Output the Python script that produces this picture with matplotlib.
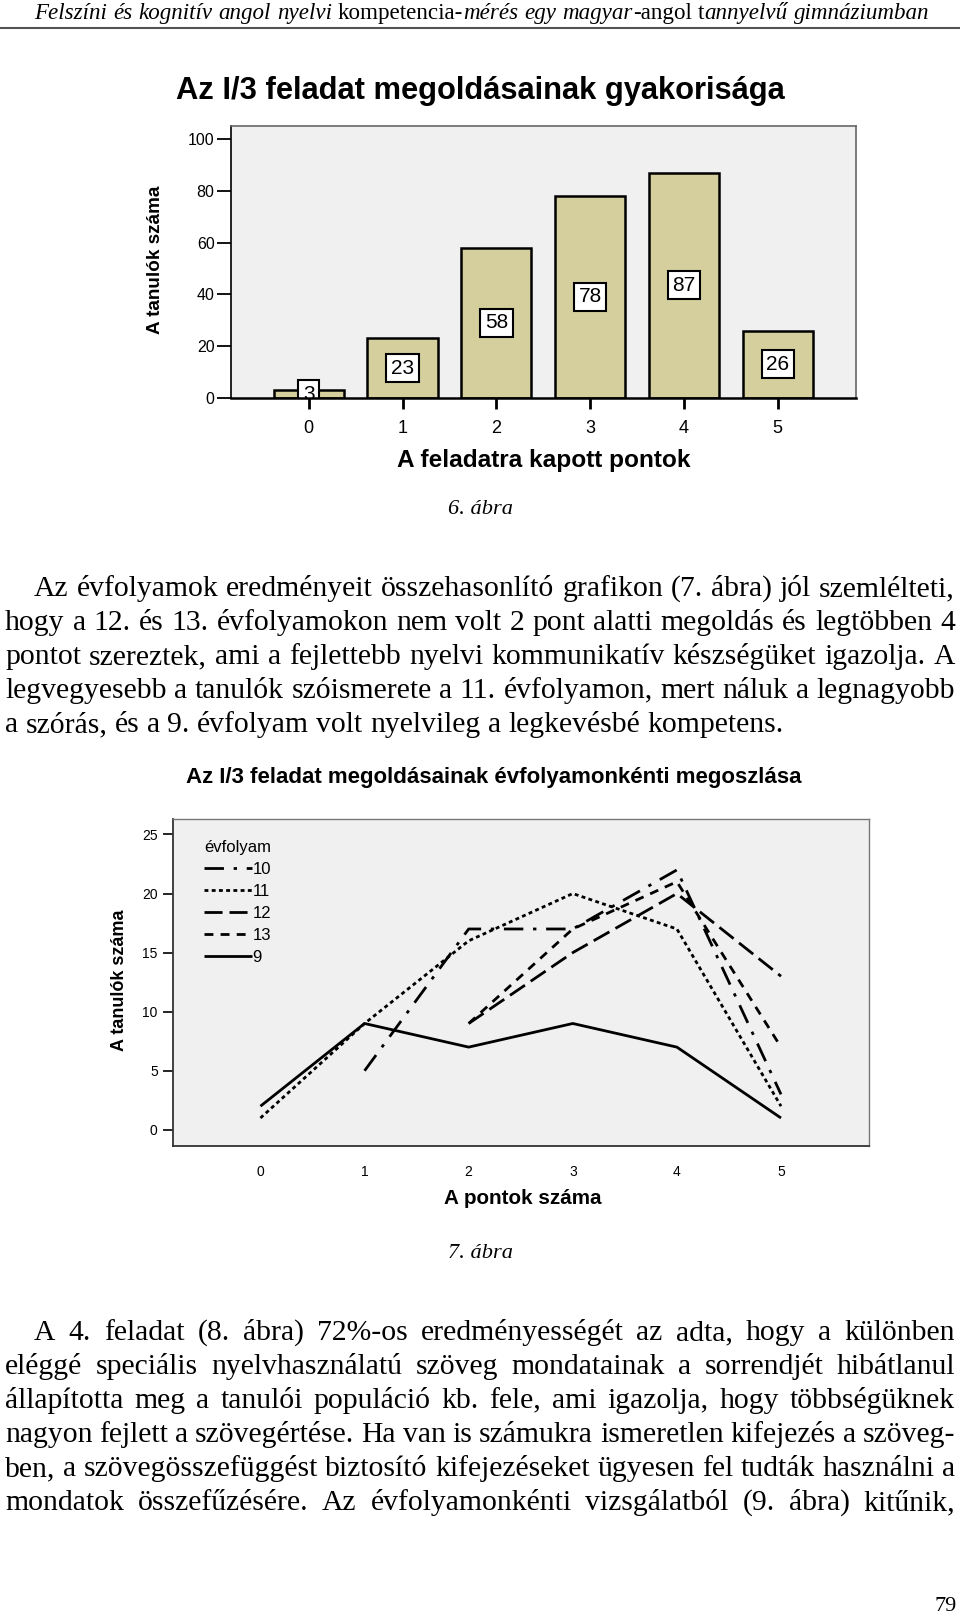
import matplotlib
matplotlib.use("Agg")
import matplotlib.pyplot as plt
import numpy as np

# ---------------- data ----------------
scores = [0, 1, 2, 3, 4, 5]
counts = [3, 23, 58, 78, 87, 26]

grade_labels = ["10", "11", "12", "13", "9"]
g10 = [np.nan, 5, 17, 17, 22, 3]
g11 = [1, 9, 16, 20, 17, 2]
g12 = [np.nan, np.nan, 9, 15, 20, 13]
g13 = [np.nan, np.nan, 9, 17, 21, 7]
g9 = [2, 9, 7, 9, 7, 1]

header_runs = [("Felszíni", "italic", True), ("és", "italic", True), ("kognitív", "italic", True),
               ("angol", "italic", True), ("nyelvi", "italic", True), ("kompetencia-", "normal", True),
               ("mérés", "italic", False), ("egy", "italic", True), ("magyar", "italic", True),
               ("-angol", "normal", False), ("t", "normal", True), ("annyelvű", "italic", False),
               ("gimnáziumban", "italic", True)]

para1 = ["Az évfolyamok eredményeit összehasonlító grafikon (7. ábra) jól szemlélteti,",
         "hogy a 12. és 13. évfolyamokon nem volt 2 pont alatti megoldás és legtöbben 4",
         "pontot szereztek, ami a fejlettebb nyelvi kommunikatív készségüket igazolja. A",
         "legvegyesebb a tanulók szóismerete a 11. évfolyamon, mert náluk a legnagyobb",
         "a szórás, és a 9. évfolyam volt nyelvileg a legkevésbé kompetens."]
para2 = ["A 4. feladat (8. ábra) 72%-os eredményességét az adta, hogy a különben",
         "eléggé speciális nyelvhasználatú szöveg mondatainak a sorrendjét hibátlanul",
         "állapította meg a tanulói populáció kb. fele, ami igazolja, hogy többségüknek",
         "nagyon fejlett a szövegértése. Ha van is számukra ismeretlen kifejezés a szöveg-",
         "ben, a szövegösszefüggést biztosító kifejezéseket ügyesen fel tudták használni a",
         "mondatok összefűzésére. Az évfolyamonkénti vizsgálatból (9. ábra) kitűnik,"]

# ---------------- figure ----------------
W, H = 960, 1613
fig = plt.figure(figsize=(W / 100, H / 100), dpi=100)
fig.patch.set_facecolor("white")
R = fig.canvas.get_renderer()

SERIF = "Liberation Serif"
SANS = "Liberation Sans"
NARROW = ["Liberation Sans Narrow", "Liberation Sans"]


def fx(x):
    return x / W


def fy(y):
    return 1 - y / H


def wid(t):
    return t.get_window_extent(R).width


def fit(t, target):
    t.set_fontsize(t.get_fontsize() * target / wid(t))
    return t


def space_w(size, style="normal"):
    a = fig.text(0, 0, "a a", fontsize=size, family=SERIF, style=style)
    b = fig.text(0, 0, "aa", fontsize=size, family=SERIF, style=style)
    d = wid(a) - wid(b)
    a.remove(); b.remove()
    return d


# ---------------- header ----------------
def run_line(runs, x0, x1, y, size0):
    def build(size):
        texts = [fig.text(0, 0, s, fontsize=size, family=SERIF, style=st, va="baseline", ha="left")
                 for s, st, _ in runs]
        return texts, [wid(t) for t in texts]
    texts, ws = build(size0)
    nsp = sum(1 for r in runs[1:] if r[2])
    natural = sum(ws) + nsp * space_w(size0, "italic")
    size = size0 * (x1 - x0) / natural
    for t in texts:
        t.remove()
    texts, ws = build(size)
    gap = (x1 - x0 - sum(ws)) / nsp
    x = x0
    for i, (t, w) in enumerate(zip(texts, ws)):
        if i > 0 and runs[i][2]:
            x += gap
        t.set_position((fx(x), fy(y)))
        x += w


run_line(header_runs, 34, 929, 19, 15.0)
fig.add_artist(plt.Line2D([0, 1], [fy(28), fy(28)], color="#555555", lw=1.5))


# ---------------- body text ----------------
def text_line(line, x0, x1, y, size, justify=True):
    words = line.split(" ")
    texts = [fig.text(0, 0, w, fontsize=size, family=SERIF, va="baseline", ha="left") for w in words]
    ws = [wid(t) for t in texts]
    if justify and len(words) > 1:
        gap = (x1 - x0 - sum(ws)) / (len(words) - 1)
    else:
        gap = space_w(size)
    x = x0
    for t, w in zip(texts, ws):
        t.set_position((fx(x), fy(y)))
        x += w + gap


probe = fig.text(0, 0, para1[-1], fontsize=20, family=SERIF)
body_size = 20 * 740 / wid(probe) * 1.05
probe.remove()

p1_y = [596, 630, 664, 698, 732]
for i, line in enumerate(para1):
    x0 = 34 if i == 0 else 5
    text_line(line, x0, 955, p1_y[i], body_size, justify=(i < len(para1) - 1))

p2_y = [1340, 1374, 1408, 1442, 1476, 1510]
for i, line in enumerate(para2):
    x0 = 34 if i == 0 else 5
    text_line(line, x0, 955, p2_y[i], body_size, justify=True)

fig.text(fx(957), fy(1611), "79", family=SERIF, fontsize=16, ha="right", va="baseline")

# ---------------- chart 1: bars ----------------
L1, R1, T1, B1 = 230.5, 856, 125.5, 398
ax1 = fig.add_axes([fx(L1), fy(B1), (R1 - L1) / W, (B1 - T1) / H])
ax1.set_facecolor("#f0f0f0")
ax1.bar(scores, counts, width=0.75, color="#d4cf9c", edgecolor="black", linewidth=1.8, zorder=2)
for s, c in zip(scores, counts):
    ax1.text(s, c / 2, str(c), ha="center", va="center", fontsize=15, family=SANS, zorder=3,
             clip_on=True,
             bbox=dict(boxstyle="square,pad=0.22", fc="white", ec="black", lw=1.5))
ax1.set_xlim(-0.834, 5.835)
ax1.set_ylim(0, 105.2)
ax1.set_yticks([0, 20, 40, 60, 80, 100])
ax1.set_xticks(scores)
ax1.tick_params(axis="y", length=10, width=1.3, pad=1.5, labelsize=11.5, colors="black")
ax1.tick_params(axis="x", length=8, width=2, pad=8, labelsize=13)
for lab in ax1.get_xticklabels() + ax1.get_yticklabels():
    lab.set_family(SANS)
for side in ["top", "right"]:
    ax1.spines[side].set_color("#666666")
    ax1.spines[side].set_linewidth(1.2)
ax1.spines["left"].set_color("black")
ax1.spines["left"].set_linewidth(1.2)
ax1.spines["bottom"].set_color("black")
ax1.spines["bottom"].set_linewidth(1.8)
ax1.spines["bottom"].set_zorder(4)

t = fig.text(fx(480), fy(91.5), "Az I/3 feladat megoldásainak gyakorisága", family=SANS,
             weight="bold", fontsize=18, ha="center", va="center")
fit(t, 610)
t = fig.text(fx(544), fy(461), "A feladatra kapott pontok", family=SANS, weight="bold",
             fontsize=13, ha="center", va="center")
fit(t, 292)
t = fig.text(fx(156), fy(260), "A tanulók száma", family=SANS, weight="bold", fontsize=13,
             ha="center", va="center", rotation=90)
t.set_fontsize(t.get_fontsize() * 148 / t.get_window_extent(R).height)
t = fig.text(fx(480), fy(509), "6. ábra", family=SERIF, style="italic", fontsize=14,
             ha="center", va="center")
fit(t, 65)

# ---------------- chart 2: lines ----------------
L2, R2, T2, B2 = 173, 869.5, 819, 1146
ax2 = fig.add_axes([fx(L2), fy(B2), (R2 - L2) / W, (B2 - T2) / H])
ax2.set_facecolor("#f0f0f0")
lw = 2.0
series = {"10": g10, "11": g11, "12": g12, "13": g13, "9": g9}
dashes = {"10": (7, 3.5, 1.2, 3.5), "11": (1.4, 1.2), "12": (6.5, 2.5), "13": (3.2, 2.6), "9": None}
handles = {}
for k in grade_labels:
    if dashes[k] is None:
        ln, = ax2.plot(scores, series[k], color="black", lw=lw, label=k, solid_capstyle="butt")
    else:
        ln, = ax2.plot(scores, series[k], color="black", lw=lw, label=k, dashes=dashes[k],
                       dash_capstyle="butt")
    handles[k] = ln
ax2.set_xlim(-0.84, 5.85)
ax2.set_ylim(-1.37, 26.31)
ax2.set_xticks(scores)
ax2.set_yticks([0, 5, 10, 15, 20, 25])
ax2.tick_params(axis="x", length=0, pad=14, labelsize=10)
ax2.tick_params(axis="y", length=7, width=1.2, pad=4, labelsize=10)
for lab in ax2.get_xticklabels() + ax2.get_yticklabels():
    lab.set_family(NARROW)
for side in ["top", "right"]:
    ax2.spines[side].set_color("#777777")
    ax2.spines[side].set_linewidth(1.0)
for side in ["left", "bottom"]:
    ax2.spines[side].set_color("#333333")
    ax2.spines[side].set_linewidth(1.3)

leg = ax2.legend([handles[k] for k in grade_labels], grade_labels, title="évfolyam",
                 loc="upper left", bbox_to_anchor=((204 - L2) / (R2 - L2), 1 - (840 - T2) / (B2 - T2)),
                 frameon=False, borderpad=0, borderaxespad=0, handlelength=2.9, handletextpad=0.0,
                 labelspacing=0.42, alignment="left",
                 prop={"family": SANS, "size": 12}, title_fontproperties={"family": SANS, "size": 12})

t = fig.text(fx(494), fy(778), "Az I/3 feladat megoldásainak évfolyamonkénti megoszlása", family=SANS,
             weight="bold", fontsize=14, ha="center", va="center")
fit(t, 618)
t = fig.text(fx(523), fy(1198), "A pontok száma", family=SANS, weight="bold", fontsize=12,
             ha="center", va="center")
fit(t, 156)
t = fig.text(fx(119), fy(980), "A tanulók száma", family=SANS, weight="bold", fontsize=12,
             ha="center", va="center", rotation=90)
t.set_fontsize(t.get_fontsize() * 141 / t.get_window_extent(R).height)
t = fig.text(fx(480), fy(1253), "7. ábra", family=SERIF, style="italic", fontsize=14,
             ha="center", va="center")
fit(t, 65)

fig.savefig("out.png", dpi=100, facecolor="white")
